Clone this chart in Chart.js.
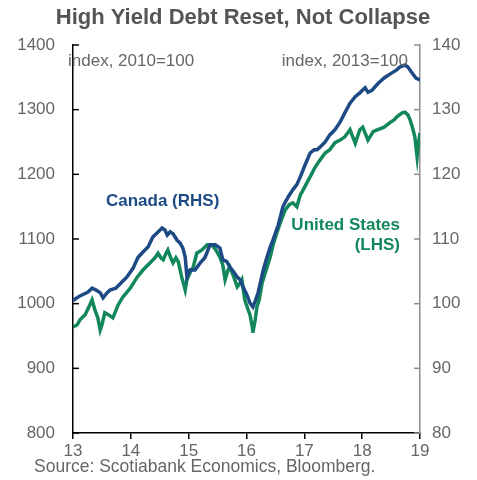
<!DOCTYPE html>
<html>
<head>
<meta charset="utf-8">
<script src="https://cdn.jsdelivr.net/npm/chart.js@4.4.1/dist/chart.umd.min.js"></script>
<style>
  html, body { margin: 0; padding: 0; background: #fff; }
  #wrap { width: 477px; height: 480px; position: relative; }
</style>
</head>
<body>
<div id="wrap"><canvas id="hyChart"></canvas></div>
<script>
// years (fraction of year, 13 = Jan 2013) and index levels
var caYears = [13.00,13.12,13.26,13.33,13.40,13.47,13.52,13.59,13.64,13.74,13.85,13.93,14.04,14.12,14.19,14.30,14.38,14.47,14.54,14.59,14.63,14.68,14.73,14.80,14.85,14.90,14.94,14.97,15.02,15.11,15.20,15.28,15.37,15.46,15.54,15.59,15.66,15.71,15.78,15.84,15.89,15.94,16.01,16.06,16.11,16.16,16.20,16.29,16.34,16.41,16.46,16.55,16.63,16.72,16.80,16.87,16.93,17.01,17.10,17.17,17.22,17.27,17.36,17.44,17.53,17.62,17.70,17.79,17.88,17.96,18.05,18.10,18.17,18.27,18.38,18.48,18.59,18.65,18.74,18.79,18.86,18.93,19.00];
var caIndex = [100.5,101.2,101.8,102.4,102.1,101.7,100.9,101.7,102.1,102.4,103.4,104.1,105.5,107.1,107.8,108.8,110.3,111.1,111.7,111.4,110.6,111.1,110.8,109.8,109.4,108.6,107.2,104.1,105.2,105.2,106.3,107.1,109.1,109.1,108.6,106.8,106.5,105.7,104.9,104.1,103.7,102.6,101.3,100.1,99.5,100.6,101.7,105.2,106.8,108.8,109.9,112.2,115.0,116.5,117.6,118.4,119.6,121.4,123.3,123.8,123.8,124.2,125.0,126.1,126.9,128.1,129.5,131.0,132.0,132.6,133.4,132.7,133.0,134.0,134.9,135.5,136.1,136.6,136.9,136.6,135.7,134.9,134.6];

var usYears = [13.00,13.07,13.12,13.21,13.29,13.33,13.38,13.43,13.47,13.50,13.55,13.61,13.69,13.78,13.86,13.99,14.11,14.21,14.33,14.42,14.47,14.52,14.56,14.61,14.64,14.69,14.73,14.78,14.82,14.88,14.94,14.97,15.02,15.08,15.14,15.23,15.32,15.40,15.47,15.54,15.59,15.63,15.68,15.71,15.77,15.84,15.89,15.92,15.97,16.03,16.06,16.10,16.11,16.15,16.18,16.22,16.27,16.34,16.41,16.46,16.53,16.60,16.67,16.74,16.80,16.87,16.93,16.98,17.05,17.10,17.18,17.27,17.36,17.44,17.53,17.62,17.70,17.79,17.88,17.96,18.01,18.10,18.19,18.27,18.38,18.48,18.55,18.60,18.69,18.74,18.79,18.83,18.88,18.91,18.95,18.97,19.00];
var usIndex = [964,967,975,983,998,1006,990,978,959,967,986,983,978,998,1010,1024,1041,1052,1063,1071,1078,1071,1068,1078,1083,1071,1063,1071,1065,1041,1021,1037,1047,1057,1078,1083,1091,1091,1083,1072,1060,1037,1052,1057,1044,1026,1032,1037,1006,990,983,964,955,975,995,1006,1032,1052,1072,1091,1111,1129,1145,1153,1156,1150,1168,1176,1188,1196,1210,1222,1233,1238,1249,1253,1258,1269,1248,1269,1273,1253,1266,1269,1273,1280,1284,1289,1295,1296,1292,1284,1269,1258,1227,1245,1264];

var xTicks = [13, 14, 15, 16, 17, 18, 19];
var lhsTicks = [800, 900, 1000, 1100, 1200, 1300, 1400];
var rhsTicks = [80, 90, 100, 110, 120, 130, 140];

var blue = '#1d4a85';
var green = '#12875a';
var grey = '#555555';
var font = "'Liberation Sans', Arial, sans-serif";

function pairs(xs, ys) {
  var out = [];
  for (var i = 0; i < xs.length; i++) out.push({x: xs[i], y: ys[i]});
  return out;
}
function plain(v) { return String(v); }

// inward tick marks on both y axes, texts and annotations
var decor = {
  id: 'decor',
  afterDatasetsDraw: function(chart) {
    var ctx = chart.ctx;
    var l = chart.scales.yL, r = chart.scales.yR, x = chart.scales.x;
    var area = chart.chartArea;
    ctx.save();
    ctx.lineWidth = 1.5;
    ctx.strokeStyle = '#000';
    lhsTicks.forEach(function(v) {
      var y = l.getPixelForValue(v);
      ctx.beginPath(); ctx.moveTo(area.left, y); ctx.lineTo(area.left + 6, y); ctx.stroke();
    });
    ctx.strokeStyle = '#8c8c8c';
    rhsTicks.forEach(function(v) {
      var y = r.getPixelForValue(v);
      ctx.beginPath(); ctx.moveTo(area.right, y); ctx.lineTo(area.right - 6, y); ctx.stroke();
    });

    ctx.textBaseline = 'middle';
    ctx.fillStyle = grey;
    ctx.font = 'bold 22px ' + font;
    ctx.textAlign = 'center';
    ctx.fillText('High Yield Debt Reset, Not Collapse', 243, 18);

    ctx.font = '17px ' + font;
    ctx.fillStyle = '#666';
    ctx.textAlign = 'left';
    ctx.fillText('index, 2010=100', 68, 61);
    ctx.textAlign = 'right';
    ctx.fillText('index, 2013=100', 408, 61);
    ctx.textAlign = 'left';
    ctx.font = '17.5px ' + font;
    ctx.fillText('Source: Scotiabank Economics, Bloomberg.', 34, 467);

    ctx.font = 'bold 17px ' + font;
    ctx.fillStyle = blue;
    ctx.textAlign = 'center';
    ctx.fillText('Canada (RHS)', x.getPixelForValue(14.55), l.getPixelForValue(1158));
    ctx.fillStyle = green;
    ctx.textAlign = 'right';
    ctx.fillText('United States', 400, l.getPixelForValue(1121));
    ctx.fillText('(LHS)', 400, l.getPixelForValue(1090));
    ctx.restore();
  }
};

var ctx = document.getElementById('hyChart').getContext('2d');
var chart = new Chart(ctx, {
  type: 'line',
  data: {
    datasets: [{
      label: 'Canada (RHS)',
      data: pairs(caYears, caIndex),
      yAxisID: 'yR',
      borderColor: blue,
      borderWidth: 3.5,
      pointRadius: 0,
      order: 1
    }, {
      label: 'United States (LHS)',
      data: pairs(usYears, usIndex),
      yAxisID: 'yL',
      borderColor: green,
      borderWidth: 3.5,
      pointRadius: 0,
      order: 2
    }]
  },
  options: {
    responsive: true,
    maintainAspectRatio: false,
    animation: false,
    layout: { padding: { top: 45, left: 0, right: 0, bottom: 0 } },
    plugins: { legend: { display: false }, tooltip: { enabled: false } },
    scales: {
      x: {
        type: 'linear', min: 13, max: 19,
        afterFit: function(s) { s.height = 47; },
        afterBuildTicks: function(s) { s.ticks = xTicks.map(function(v) { return {value: v}; }); },
        grid: { drawOnChartArea: false, drawTicks: true, tickLength: 6, color: '#000', lineWidth: 1.5 },
        border: { color: '#000', width: 1.5 },
        ticks: { color: '#666', font: { family: font, size: 17 }, padding: 2, maxRotation: 0, callback: plain }
      },
      yL: {
        position: 'left', min: 800, max: 1400,
        afterFit: function(s) { s.width = 73; },
        afterBuildTicks: function(s) { s.ticks = lhsTicks.map(function(v) { return {value: v}; }); },
        grid: { display: true, drawOnChartArea: false, drawTicks: false },
        border: { color: '#000', width: 1.5 },
        ticks: { color: '#666', font: { family: font, size: 17 }, padding: 18, callback: plain }
      },
      yR: {
        position: 'right', min: 80, max: 140,
        afterFit: function(s) { s.width = 57; },
        afterBuildTicks: function(s) { s.ticks = rhsTicks.map(function(v) { return {value: v}; }); },
        grid: { display: true, drawOnChartArea: false, drawTicks: false },
        border: { color: '#8c8c8c', width: 1.5 },
        ticks: { color: '#666', font: { family: font, size: 17 }, padding: 12, callback: plain }
      }
    }
  },
  plugins: [decor]
});
</script>
</body>
</html>
